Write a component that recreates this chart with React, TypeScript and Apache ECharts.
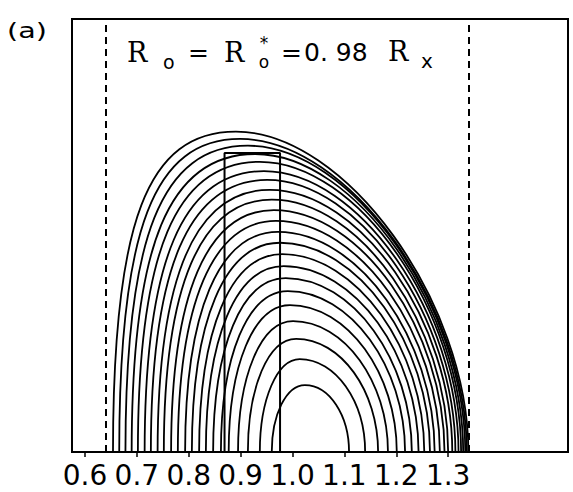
import React, { useEffect, useRef } from "react";
import * as echarts from "echarts";

// Flux-surface contours, innermost first. Each one is given by its two feet on
// the midplane (inboard / outboard major radius) and its crest (R, Z).
const footInboard = [
  0.960, 0.937, 0.914, 0.895, 0.877, 0.862, 0.847, 0.833, 0.820, 0.806, 0.793,
  0.779, 0.766, 0.752, 0.740, 0.727, 0.715, 0.702, 0.690, 0.678, 0.666, 0.654,
];
const footOutboard = [
  1.109, 1.140, 1.165, 1.184, 1.201, 1.217, 1.230, 1.243, 1.254, 1.265, 1.274,
  1.284, 1.293, 1.300, 1.308, 1.314, 1.320, 1.325, 1.329, 1.333, 1.336, 1.339,
];
const crestR = [
  1.024, 1.014, 1.007, 1.001, 0.995, 0.991, 0.987, 0.983, 0.980, 0.976, 0.972,
  0.968, 0.964, 0.960, 0.956, 0.951, 0.945, 0.937, 0.928, 0.914, 0.899, 0.891,
];
const crestZ = [
  0.129, 0.179, 0.218, 0.252, 0.283, 0.310, 0.335, 0.358, 0.381, 0.403, 0.424,
  0.445, 0.466, 0.486, 0.505, 0.524, 0.541, 0.559, 0.574, 0.590, 0.603, 0.617,
];

// Coil cross-section and the two limiter positions
const coilR = [0.869, 0.976];
const coilTopZ = 0.576;
const limiterR = [0.639, 1.342];

const tickValues = [0.6, 0.7, 0.8, 0.9, 1.0, 1.1, 1.2, 1.3];

const INK = "#000";

export default function App() {
  const ref = useRef<HTMLDivElement>(null);

  useEffect(() => {
    if (!ref.current) return;
    const chart = echarts.init(ref.current, undefined, { renderer: "svg" });
    const n = footInboard.length;

    const contourData = footInboard.map((r, i) => [r, 0, i]);
    const coilOutline = [
      [coilR[0], 0],
      [coilR[0], coilTopZ],
      [coilR[1], coilTopZ],
      [coilR[1], 0],
    ];

    const serif = "DejaVu Serif";
    const sans = "DejaVu Sans";
    const txt = (
      text: string,
      x: number,
      y: number,
      size: number,
      family: string,
      extra: Record<string, unknown> = {}
    ) => ({
      type: "text",
      x,
      y,
      style: {
        text,
        fill: INK,
        font: `${size}px "${family}"`,
        verticalAlign: "middle",
        align: "left",
        ...extra,
      },
    });

    chart.setOption({
      animation: false,
      grid: {
        left: 72,
        right: 5,
        top: 19,
        bottom: 40,
        show: true,
        borderColor: INK,
        borderWidth: 2,
        backgroundColor: "transparent",
      },
      xAxis: {
        type: "value",
        min: 0.575,
        max: 1.531,
        axisLine: { show: false },
        splitLine: { show: false },
        axisTick: {
          show: true,
          inside: false,
          length: 5,
          customValues: tickValues,
          lineStyle: { color: INK, width: 1.5 },
        },
        axisLabel: {
          show: true,
          customValues: tickValues,
          margin: 9,
          color: INK,
          fontFamily: sans,
          fontSize: 28,
          formatter: (v: number) => v.toFixed(1),
        },
      },
      yAxis: {
        type: "value",
        min: 0,
        max: 0.834,
        show: false,
      },
      series: [
        {
          type: "custom",
          coordinateSystem: "cartesian2d",
          data: contourData,
          silent: true,
          renderItem: (_params: any, api: any) => {
            const i = api.value(2) as number;
            const L = api.coord([footInboard[i], 0]);
            const P = api.coord([crestR[i], crestZ[i]]);
            const R = api.coord([footOutboard[i], 0]);
            const t = i / (n - 1);
            // inboard flank grows squarer toward the edge, outboard flank flatter
            const kl = 0.56 + 0.16 * t;
            const kr = 0.55 - 0.08 * t;
            const h = L[1] - P[1];
            const d =
              `M${L[0]},${L[1]} ` +
              `C${L[0]},${L[1] - kl * h} ${P[0] - kl * (P[0] - L[0])},${P[1]} ${P[0]},${P[1]} ` +
              `C${P[0] + kr * (R[0] - P[0])},${P[1]} ${R[0]},${R[1] - kr * h} ${R[0]},${R[1]}`;
            return {
              type: "path",
              shape: { pathData: d },
              style: { fill: "none", stroke: INK, lineWidth: 1.8 },
            };
          },
        },
        {
          type: "line",
          data: coilOutline,
          symbol: "none",
          silent: true,
          lineStyle: { color: INK, width: 2 },
          markLine: {
            silent: true,
            symbol: "none",
            label: { show: false },
            lineStyle: { color: INK, width: 2, type: [7, 5] },
            data: limiterR.map((r) => ({ xAxis: r })),
          },
        },
      ],
      graphic: [
        {
          type: "text",
          x: 7,
          y: 30,
          scaleX: 1.3,
          style: {
            text: "(a)",
            fill: INK,
            font: `22px "${sans}"`,
            verticalAlign: "middle",
          },
        },
        txt("R", 127, 52, 27, serif),
        txt("o", 163, 62, 19, sans),
        txt("=", 188, 52, 25, sans),
        txt("R", 224, 52, 27, serif),
        txt("*\no", 264, 52, 17, sans, { align: "center", lineHeight: 19 }),
        txt("=", 281, 52, 25, sans),
        txt("0. 98", 304, 52, 25, sans),
        txt("R", 388, 51, 27, serif),
        txt("x", 421, 61, 20, sans),
      ],
    });

    return () => chart.dispose();
  }, []);

  return (
    <div
      ref={ref}
      style={{
        position: "fixed",
        left: 0,
        top: 0,
        width: 573,
        height: 492,
        background: "#fff",
      }}
    />
  );
}
